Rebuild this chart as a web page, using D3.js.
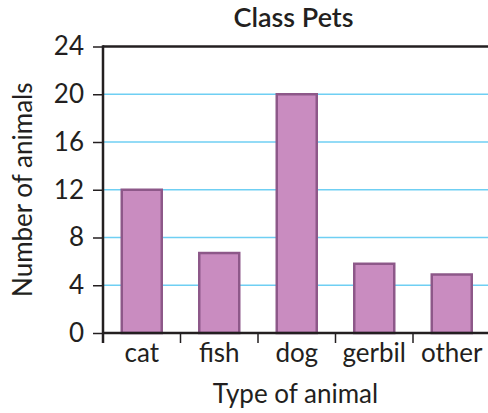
<!DOCTYPE html>
<html>
<head>
<meta charset="utf-8">
<script src="https://cdn.jsdelivr.net/npm/d3@7"></script>
<style>
	body { margin: 0; background: #fff; }
	svg { display: block; }
	text { font-family: Lato, "Open Sans", sans-serif; fill: #231f20; }
</style>
</head>
<body>
<div id="chart"></div>
<script>
var categories = ['cat', 'fish', 'dog', 'gerbil', 'other'];
var counts     = [12, 6.7, 20, 5.8, 4.9];
var yTicks     = [0, 4, 8, 12, 16, 20, 24];
var gridTicks  = [4, 8, 12, 16, 20];

var width  = 488,
	height = 413,
	margin = {top: 46.5, right: 0, bottom: 80, left: 103};

var svg = d3.select('#chart').append('svg')
	.attr('width', width)
	.attr('height', height);

var bandW = 77.5;
var x = d3.scaleBand()
	.domain(categories)
	.range([margin.left, margin.left + bandW * categories.length])
	.paddingInner(0)
	.paddingOuter(0);

var y = d3.scaleLinear()
	.domain([0, 24])
	.range([height - margin.bottom, margin.top]);

var ink = '#231f20';

// grid lines
svg.append('g')
	.selectAll('line')
	.data(gridTicks)
	.enter().append('line')
	.attr('x1', margin.left)
	.attr('x2', width)
	.attr('y1', function(d) { return y(d); })
	.attr('y2', function(d) { return y(d); })
	.attr('stroke', '#6fcff3')
	.attr('stroke-width', 1.5);

// top line
svg.append('line')
	.attr('x1', margin.left)
	.attr('x2', width)
	.attr('y1', y(24))
	.attr('y2', y(24))
	.attr('stroke', ink)
	.attr('stroke-width', 2.5);

// bars
var barW = 40;
svg.append('g')
	.selectAll('rect')
	.data(categories)
	.enter().append('rect')
	.attr('x', function(d) { return x(d) + x.bandwidth() / 2 - barW / 2; })
	.attr('y', function(d, i) { return y(counts[i]); })
	.attr('width', barW)
	.attr('height', function(d, i) { return y(0) - y(counts[i]); })
	.attr('fill', '#c98cc0')
	.attr('stroke', '#8d5889')
	.attr('stroke-width', 2.5);

// y axis
var yAxis = d3.axisLeft(y)
	.tickValues(yTicks)
	.tickSize(10)
	.tickPadding(9)
	.tickFormat(d3.format('d'));

var gy = svg.append('g')
	.attr('transform', 'translate(' + margin.left + ',0)')
	.call(yAxis);
gy.select('.domain').remove();
gy.selectAll('.tick line').attr('stroke', ink).attr('stroke-width', 1.5);
gy.selectAll('.tick text')
	.attr('font-size', 26)
	.style('font-family', 'Lato, sans-serif')
	.attr('fill', ink);

// y axis line (runs down past zero as first category tick)
svg.append('line')
	.attr('x1', margin.left).attr('x2', margin.left)
	.attr('y1', y(24) - 1.2)
	.attr('y2', y(0) + 10)
	.attr('stroke', ink)
	.attr('stroke-width', 2.5);

// x axis
var xAxis = d3.axisBottom(x)
	.tickSize(0)
	.tickPadding(11);

var gx = svg.append('g')
	.attr('transform', 'translate(0,' + y(0) + ')')
	.call(xAxis);
gx.select('.domain').remove();
gx.selectAll('.tick text')
	.attr('font-size', 26)
	.style('font-family', 'Lato, sans-serif')
	.attr('fill', ink);

svg.append('line')
	.attr('x1', margin.left)
	.attr('x2', width)
	.attr('y1', y(0))
	.attr('y2', y(0))
	.attr('stroke', ink)
	.attr('stroke-width', 2.5);

// category separator ticks
svg.append('g')
	.selectAll('line')
	.data(categories.slice(1))
	.enter().append('line')
	.attr('x1', function(d) { return x(d); })
	.attr('x2', function(d) { return x(d); })
	.attr('y1', y(0))
	.attr('y2', y(0) + 10)
	.attr('stroke', ink)
	.attr('stroke-width', 1.5);

// titles
var plotMid = (margin.left + width) / 2;
svg.append('text')
	.attr('x', plotMid - 2)
	.attr('y', 27)
	.attr('text-anchor', 'middle')
	.attr('font-size', 27)
	.attr('font-weight', 600)
	.text('Class Pets');

svg.append('text')
	.attr('x', plotMid)
	.attr('y', 403)
	.attr('text-anchor', 'middle')
	.attr('font-size', 26)
	.text('Type of animal');

svg.append('text')
	.attr('transform', 'translate(32,' + ((y(0) + y(24)) / 2) + ') rotate(-90)')
	.attr('text-anchor', 'middle')
	.attr('font-size', 26)
	.text('Number of animals');
</script>
</body>
</html>
